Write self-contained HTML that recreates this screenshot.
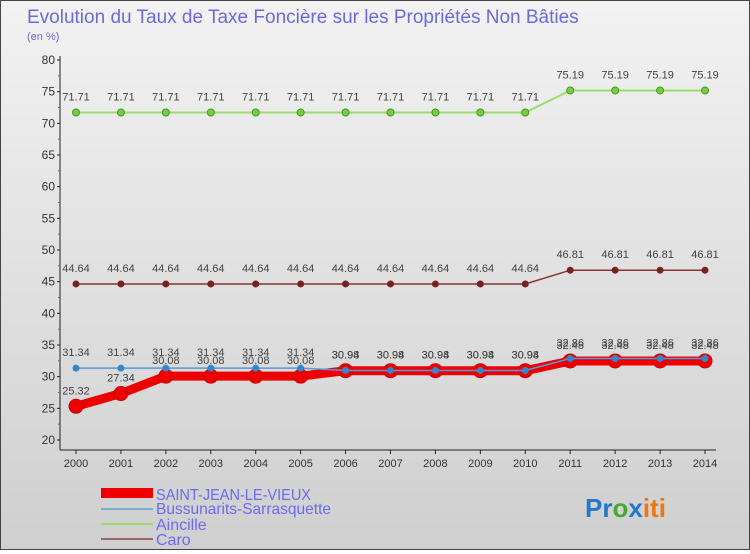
<!DOCTYPE html>
<html><head><meta charset="utf-8"><style>
body{margin:0;width:750px;height:550px;overflow:hidden;font-family:"Liberation Sans",sans-serif}
#wrap{position:relative;width:748px;height:548px;border:1px solid #444;background:linear-gradient(#f2f2f2,#cfcfcf)}
</style></head><body>
<div id="wrap">
<svg id="chart" width="748" height="548">
<text x="26" y="22" font-size="19" fill="#6b6bd8">Evolution du Taux de Taxe Foncière sur les Propriétés Non Bâties</text>
<text x="26" y="39" font-size="11" fill="#6b6bd8">(en %)</text>
<g id="axes"></g><g id="series"></g>
<g>
<rect x="100" y="487" width="52" height="10" fill="#e00"/>
<text x="155" y="499" font-size="16" fill="#6b6bf0" textLength="155" lengthAdjust="spacingAndGlyphs">SAINT-JEAN-LE-VIEUX</text>
<line x1="100" y1="508" x2="152" y2="508" stroke="#7aaed6" stroke-width="2"/>
<text x="155" y="513" font-size="16" fill="#6b6bf0" textLength="175" lengthAdjust="spacingAndGlyphs">Bussunarits-Sarrasquette</text>
<line x1="100" y1="523" x2="152" y2="523" stroke="#99dd66" stroke-width="2"/>
<text x="155" y="529" font-size="16" fill="#6b6bf0">Aincille</text>
<line x1="100" y1="538" x2="152" y2="538" stroke="#996666" stroke-width="2"/>
<text x="155" y="544" font-size="16" fill="#6b6bf0">Caro</text>
</g>
<text x="584" y="516" font-size="26" font-weight="bold"><tspan fill="#2277cc">Pr</tspan><tspan fill="#44aa33">o</tspan><tspan fill="#2277cc">x</tspan><tspan fill="#ee7711">iti</tspan></text>
</svg></div>
<script>
const years=[2000,2001,2002,2003,2004,2005,2006,2007,2008,2009,2010,2011,2012,2013,2014];
const yTicks=[20,25,30,35,40,45,50,55,60,65,70,75,80];
const saintJean=[25.32,27.34,30.08,30.08,30.08,30.08,30.94,30.94,30.94,30.94,30.94,32.48,32.48,32.48,32.48];
const bussunarits=[31.34,31.34,31.34,31.34,31.34,31.34,30.98,30.98,30.98,30.98,30.98,32.86,32.86,32.86,32.86];
const aincille=[71.71,71.71,71.71,71.71,71.71,71.71,71.71,71.71,71.71,71.71,71.71,75.19,75.19,75.19,75.19];
const caro=[44.64,44.64,44.64,44.64,44.64,44.64,44.64,44.64,44.64,44.64,44.64,46.81,46.81,46.81,46.81];
const NS='http://www.w3.org/2000/svg';
const xs=i=>75+i*(629/14);
const ys=v=>439-(v-20)*(380/60);
function mk(tag,at,parent){const e=document.createElementNS(NS,tag);for(const k in at)e.setAttribute(k,at[k]);parent.appendChild(e);return e;}
const ax=document.getElementById('axes');
const yl=mk('line',{x1:59,y1:55,x2:59,y2:449,stroke:'#222'},ax);


const xl=mk('line',{x1:59,y1:449,x2:715,y2:449,stroke:'#222'},ax);


yTicks.forEach(t=>{
 mk('line',{x1:56,y1:ys(t),x2:59,y2:ys(t),stroke:'#222'},ax);
 if(t<80)mk('line',{x1:57,y1:ys(t+2.5),x2:59,y2:ys(t+2.5),stroke:'#e33'},ax);
 const tx=mk('text',{x:54,y:ys(t)+4,'font-size':12,'text-anchor':'end',fill:'#333'},ax);
 tx.textContent=t;
 
 
});
years.forEach((y,i)=>{
 mk('line',{x1:xs(i),y1:449,x2:xs(i),y2:453,stroke:'#222'},ax);
 const tx=mk('text',{x:xs(i),y:466,'font-size':11,'text-anchor':'middle',fill:'#333'},ax);
 tx.textContent=y;
 
 
});
const sg=document.getElementById('series');
function draw(name,vals,color,w,r,pc,stroke){
 const g=mk('g',{},sg);
 
 
 mk('polyline',{points:vals.map((v,i)=>xs(i)+','+ys(v)).join(' '),fill:'none',stroke:color,'stroke-width':w},g);
 vals.forEach((v,i)=>{
  const c=mk('circle',{cx:xs(i),cy:ys(v),r:r,fill:pc,stroke:stroke||'none'},g);
  
  
  const t=mk('text',{x:xs(i),y:ys(v)-12,'font-size':11,'text-anchor':'middle',fill:'#444'},g);
  t.textContent=v.toFixed(2);
  
  
 });
}
draw('aincille',aincille,'#99dd66',2,3.5,'#77cc44','#449922');
draw('caro',caro,'#883333',1.5,3.5,'#772222');
draw('saint-jean',saintJean,'#ee0000',9,7,'#ee0000','#cc0000');
draw('bussunarits',bussunarits,'#5599dd',1.5,3.5,'#3388cc');
</script></body></html>
